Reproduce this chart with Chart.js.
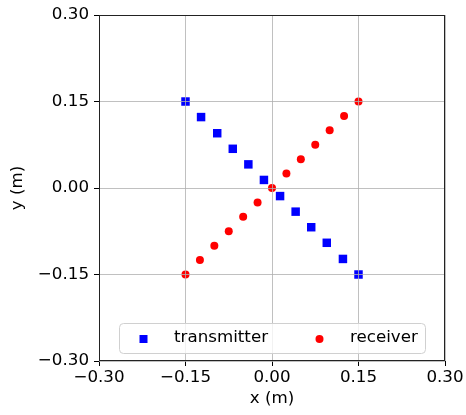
<!DOCTYPE html>
<html>
<head>
<meta charset="utf-8">
<title>transmitter / receiver</title>
<script src="https://cdn.jsdelivr.net/npm/chart.js@4.4.1/dist/chart.umd.min.js"></script>
<style>
  html, body { margin: 0; padding: 0; background: #fff; }
  #wrap { width: 466px; height: 415px; }
</style>
</head>
<body>
<div id="wrap"><canvas id="posChart" width="466" height="415"></canvas></div>
<script>
// positions (metres)
const txX = [-0.15, -0.123, -0.095, -0.068, -0.041, -0.014, 0.014, 0.041, 0.068, 0.095, 0.123, 0.15];
const txY = [0.15, 0.123, 0.095, 0.068, 0.041, 0.014, -0.014, -0.041, -0.068, -0.095, -0.123, -0.15];
const rxX = [-0.15, -0.125, -0.1, -0.075, -0.05, -0.025, 0, 0.025, 0.05, 0.075, 0.1, 0.125, 0.15];
const rxY = [-0.15, -0.125, -0.1, -0.075, -0.05, -0.025, 0, 0.025, 0.05, 0.075, 0.1, 0.125, 0.15];
const seriesNames = ['transmitter', 'receiver'];
const axisTicks = [-0.3, -0.15, 0, 0.15, 0.3];

const FONT = 'DejaVu Sans';
const fmt = v => Number(v).toFixed(2).replace('-', '\u2212');
const toPoints = (xs, ys) => xs.map((x, i) => ({ x: x, y: ys[i] }));

// frame + in-plot legend (matplotlib style)
const framePlugin = {
    id: 'frame',
    afterDraw(chart) {
        const { ctx, chartArea: a } = chart;
        ctx.save();
        ctx.strokeStyle = '#222';
        ctx.lineWidth = 1;
        ctx.strokeRect(Math.round(a.left) + 0.5, Math.round(a.top) + 0.5,
            Math.round(a.right - a.left) - 1, Math.round(a.bottom - a.top) - 1);

        // legend box
        const bx = a.left + 20, by = a.bottom - 38, bw = 306, bh = 30;
        ctx.beginPath();
        ctx.roundRect(bx + 0.5, by + 0.5, bw, bh, 4);
        ctx.fillStyle = 'rgba(255,255,255,0.8)';
        ctx.fill();
        ctx.strokeStyle = '#d0d0d0';
        ctx.stroke();

        const ds = chart.data.datasets;
        const cy = by + 16;
        ctx.fillStyle = ds[0].backgroundColor;
        ctx.fillRect(bx + 20.5, cy - 4, 8, 8);
        ctx.beginPath();
        ctx.arc(bx + 200.5, cy, 4, 0, Math.PI * 2);
        ctx.fillStyle = ds[1].backgroundColor;
        ctx.fill();

        ctx.fillStyle = '#000';
        ctx.font = '16.7px "' + FONT + '"';
        ctx.textBaseline = 'middle';
        ctx.textAlign = 'left';
        ctx.fillText(ds[0].label, bx + 55, cy - 1);
        ctx.fillText(ds[1].label, bx + 231, cy - 1);
        ctx.restore();
    }
};

const axisCommon = (title, isX) => ({
    type: 'linear',
    min: -0.3,
    max: 0.3,
    afterBuildTicks: s => { s.ticks = axisTicks.map(v => ({ value: v })); },
    afterFit: s => { if (isX) s.height = 54; else s.width = 99; },
    grid: {
        z: 1,
        color: '#b0b0b0',
        lineWidth: 0.8,
        drawTicks: true,
        tickLength: 5,
        tickColor: '#000',
        tickWidth: 1
    },
    border: { display: false },
    ticks: {
        color: '#000',
        padding: isX ? 2 : 5,
        maxRotation: 0,
        autoSkip: false,
        font: { family: FONT, size: 16.7 },
        callback: v => fmt(v)
    },
    title: {
        display: true,
        text: title,
        color: '#000',
        font: { family: FONT, size: 16.7 },
        padding: isX ? { bottom: 6 } : { top: 8 }
    }
});

new Chart(document.getElementById('posChart'), {
    type: 'scatter',
    data: {
        datasets: [{
            label: seriesNames[0],
            data: toPoints(txX, txY),
            pointStyle: 'rect',
            pointRadius: 6,
            pointBorderWidth: 0,
            backgroundColor: '#0000ff',
            borderColor: '#0000ff'
        }, {
            label: seriesNames[1],
            data: toPoints(rxX, rxY),
            pointStyle: 'circle',
            pointRadius: 4,
            pointBorderWidth: 0,
            backgroundColor: '#ff0000',
            borderColor: '#ff0000'
        }]
    },
    options: {
        responsive: false,
        animation: false,
        devicePixelRatio: 1,
        layout: { padding: { top: 15, right: 21, left: 0, bottom: 0 } },
        scales: {
            x: axisCommon('x (m)', true),
            y: axisCommon('y (m)', false)
        },
        plugins: {
            legend: { display: false },
            tooltip: { enabled: false }
        }
    },
    plugins: [framePlugin]
});
</script>
</body>
</html>
